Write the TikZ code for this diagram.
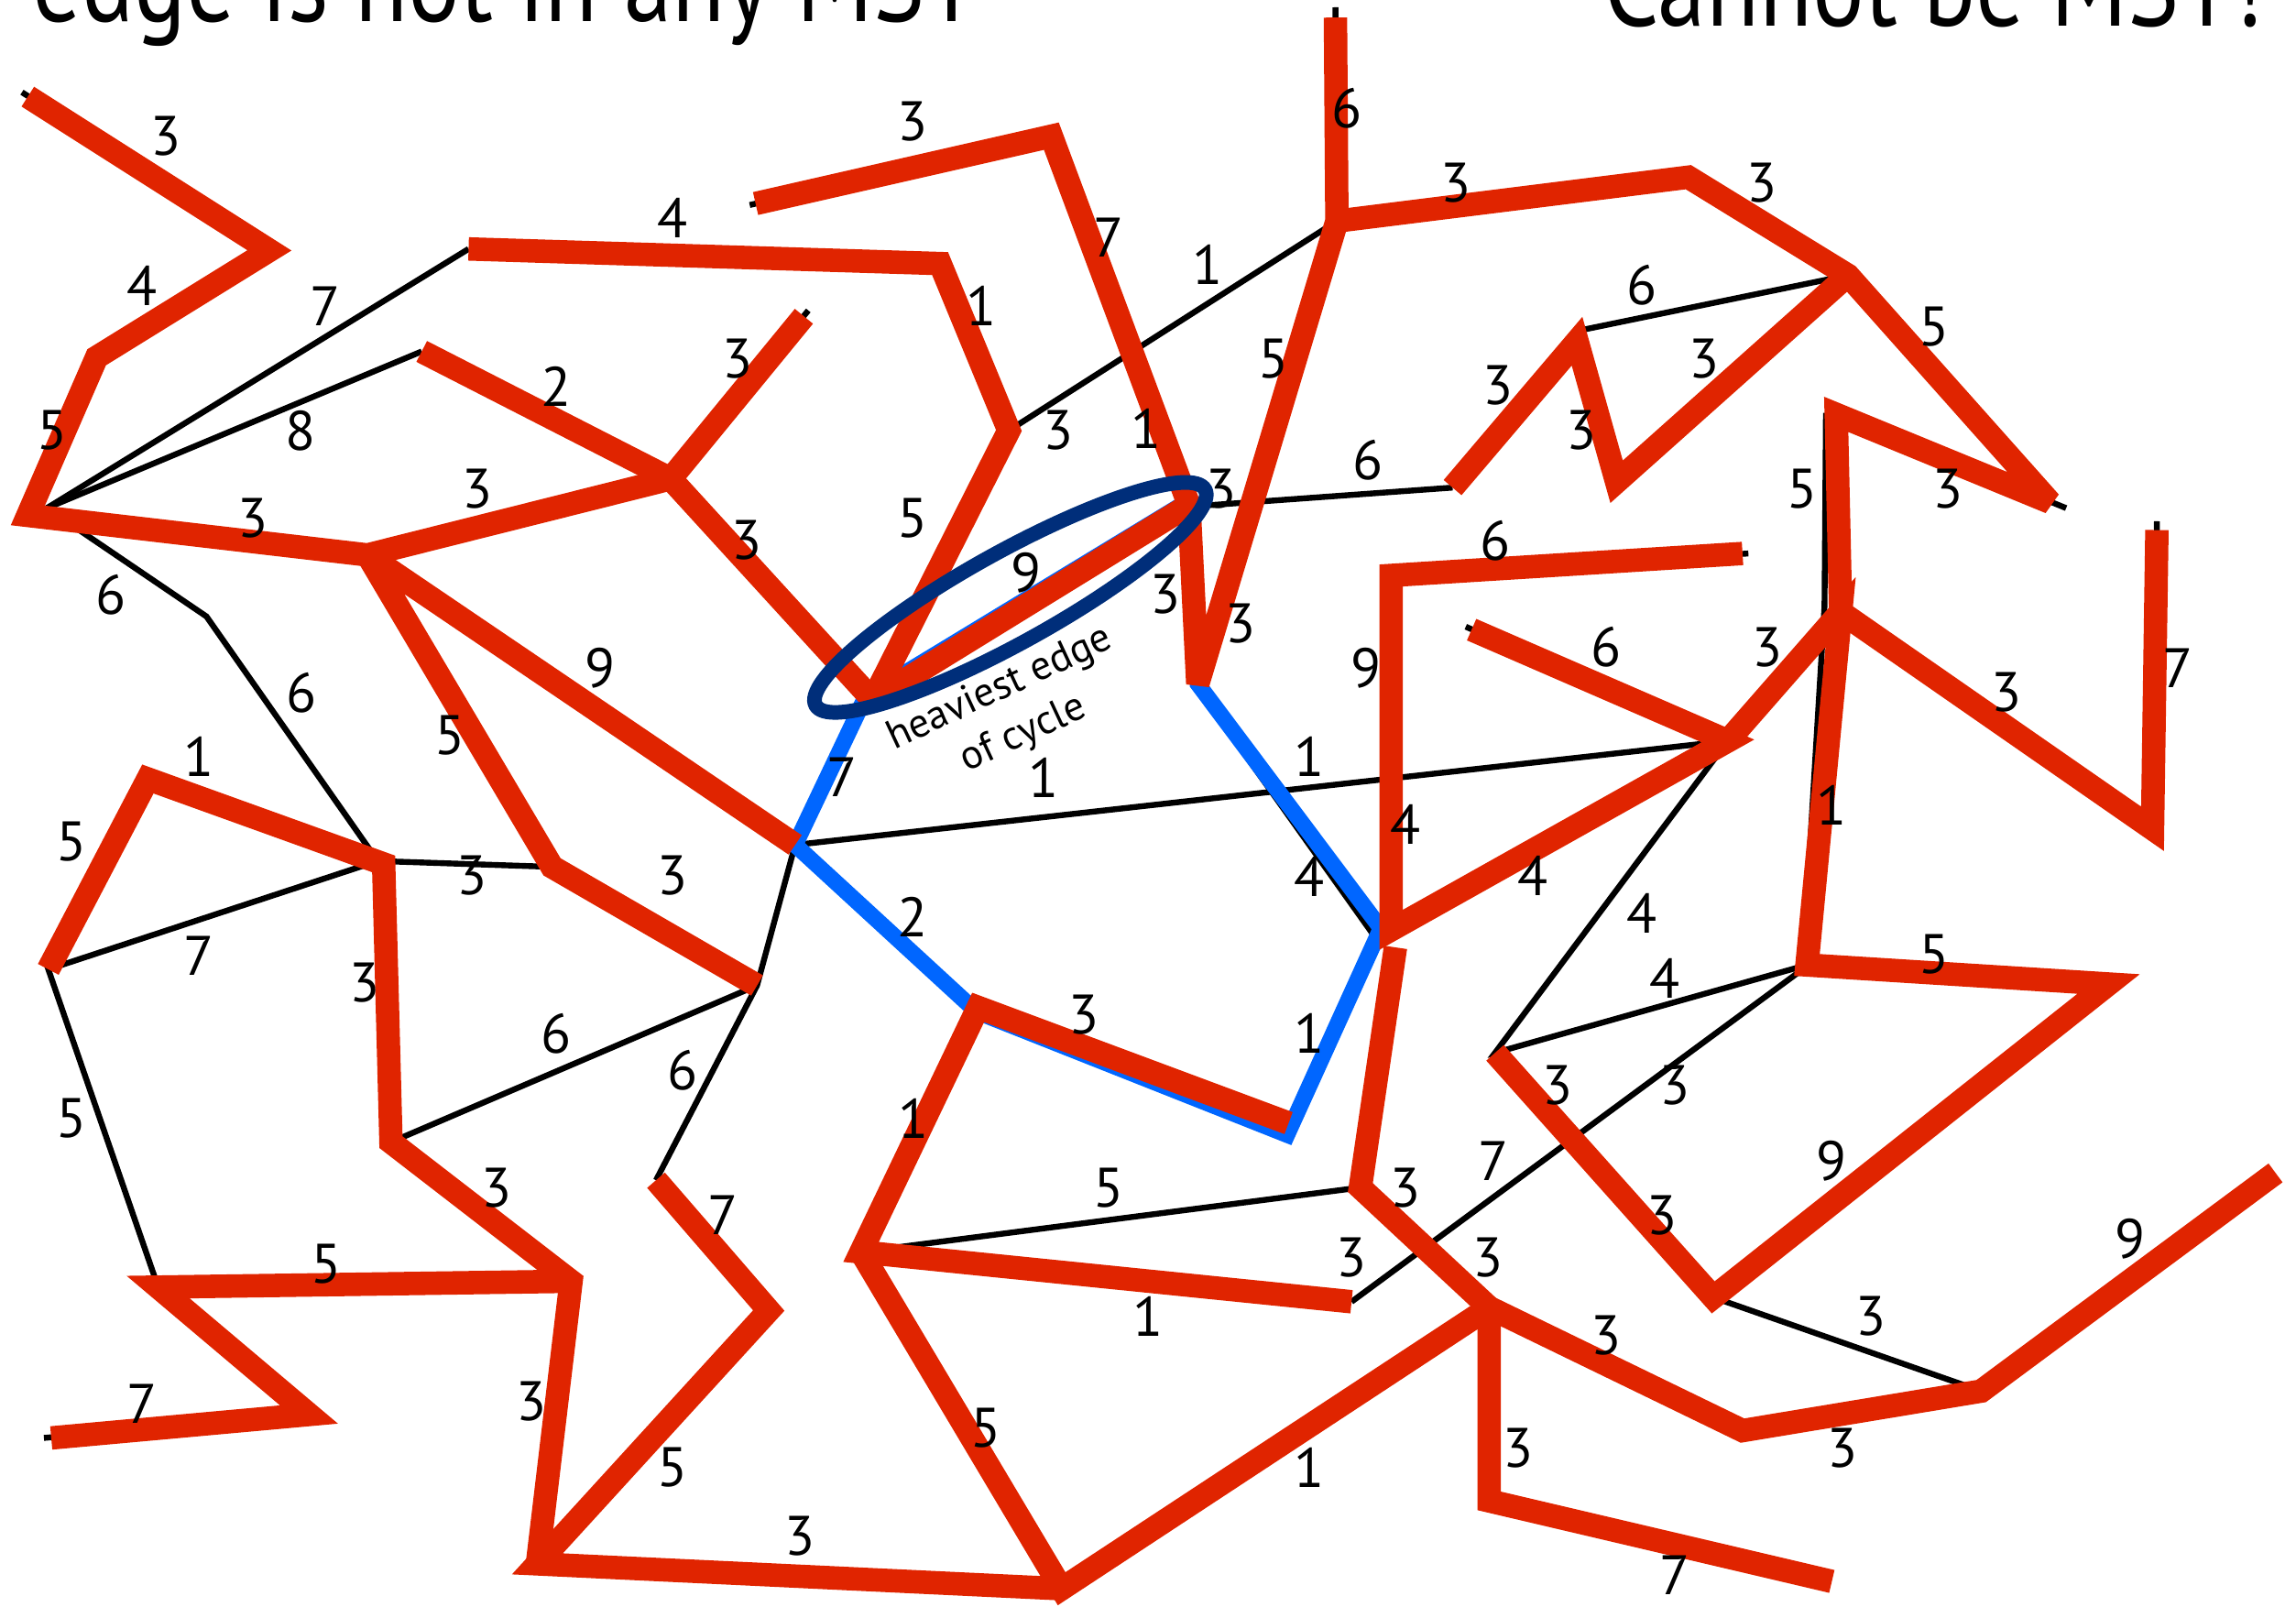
\documentclass[tikz,border=0pt]{standalone}
\usepackage{fontspec}
\setmainfont{PT Sans}
\definecolor{mstred}{RGB}{224,36,0}
\definecolor{cycblue}{RGB}{0,102,255}
\definecolor{ovalnavy}{RGB}{0,46,122}
\tikzset{
  treeedge/.style={draw=mstred,line width=16pt,line join=miter,miter limit=4,line cap=butt},
  plainedge/.style={draw=black,line width=4pt,line cap=butt},
  cycleedge/.style={draw=cycblue,line width=11pt,line join=miter,miter limit=4},
  oval/.style={draw=ovalnavy,line width=10pt},
  wlabel/.style={inner sep=0pt,font=\fontsize{38}{44}\selectfont},
  notetext/.style={inner sep=0pt,font=\fontsize{28}{33}\selectfont},
  titletext/.style={inner sep=0pt,font=\fontsize{80}{90}\selectfont},
}
\begin{document}
\begin{tikzpicture}[x=1pt,y=-1pt]
\useasboundingbox (0,0) rectangle (1568,1097);
\clip (0,0) rectangle (1568,1097);
% ---------- vertices ----------
\coordinate (a1) at (19,66);   \coordinate (a1b) at (15,63);
\coordinate (a2) at (184,171);
\coordinate (a3) at (66,244);
\coordinate (a4) at (19,352);  \coordinate (a4h) at (32,347);
\coordinate (bB) at (251,379);
\coordinate (C) at (458,327);
\coordinate (c2) at (549,216); \coordinate (c2b) at (552,212);
\coordinate (b1) at (320,170);
\coordinate (b2) at (288,240);
\coordinate (b3) at (141,421);
\coordinate (b4) at (258,588);
\coordinate (d1) at (642,180);
\coordinate (d2) at (689,294);
\coordinate (f) at (596,478);  \coordinate (fb) at (591,476);
\coordinate (e1) at (516,139); \coordinate (e1b) at (512,140);
\coordinate (e2) at (718,93);
\coordinate (v9) at (812,345); \coordinate (v9b) at (805,346); \coordinate (v9h) at (826,345);
\coordinate (i) at (818,467);  \coordinate (ib) at (818,470);
\coordinate (k) at (913,151);
\coordinate (ktop) at (912,12); \coordinate (ktopb) at (912,5);
\coordinate (l) at (1153,121);
\coordinate (m) at (1262,188);
\coordinate (n) at (1077,233); \coordinate (nb) at (1082,225);
\coordinate (x1107) at (1104,329);
\coordinate (x992) at (992,333);
\coordinate (x1408) at (1400,343); \coordinate (x1408b) at (1411,347);
\coordinate (x1254) at (1254,283); \coordinate (x1247) at (1247,282);
\coordinate (p) at (1257,418);  \coordinate (ph) at (1246,414);
\coordinate (x1472) at (1470,566);
\coordinate (x1473) at (1473,362); \coordinate (x1473b) at (1473,356);
\coordinate (r) at (1190,378);  \coordinate (rb) at (1194,378);
\coordinate (x948) at (950,393);
\coordinate (j) at (950,635);   \coordinate (jb) at (939,640); \coordinate (jc) at (943,634);
\coordinate (q) at (1180,506);
\coordinate (s) at (1005,430);  \coordinate (sb) at (1001,428);
\coordinate (D) at (543,577);
\coordinate (g) at (668,688);   \coordinate (gb) at (667,691);
\coordinate (h) at (880,767);   \coordinate (hb) at (879,775);
\coordinate (u) at (1234,659);  \coordinate (ub) at (1231,662);
\coordinate (x1440) at (1440,672);
\coordinate (x1170) at (1170,886);
\coordinate (t) at (1021,719);
\coordinate (x1355) at (1353,950);
\coordinate (x1553) at (1554,801);
\coordinate (x1190) at (1190,977);
\coordinate (w) at (1017,893);  \coordinate (wb) at (1020,889);
\coordinate (x1018) at (1017,1025);
\coordinate (x1250) at (1251,1080);
\coordinate (x952) at (953,647);
\coordinate (x930) at (929,811);
\coordinate (x922) at (923,889);
\coordinate (x590) at (588,855); \coordinate (x590b) at (584,857);
\coordinate (x728) at (725,1085);
\coordinate (x365) at (367,1068);
\coordinate (x525) at (525,895);
\coordinate (x447) at (448,806);
\coordinate (x517) at (517,673);
\coordinate (x378) at (377,592);
\coordinate (x262) at (262,590);
\coordinate (x265) at (267,780);
\coordinate (x100) at (101,532);
\coordinate (x32) at (33,662);
\coordinate (x390) at (390,875);
\coordinate (x107) at (108,879);
\coordinate (x212) at (211,966);
\coordinate (x34) at (35,982);  \coordinate (x34b) at (30,982);
\coordinate (ec) at (690,408);
% ---------- titles ----------
\node[titletext,anchor=base west] (title1) at (22,15) {\scalebox{0.83}[1]{edge is not in any MST}};
\node[titletext,anchor=base east] (title2) at (1546,18) {\scalebox{0.83}[1]{Cannot be MST!}};
% ---------- non-tree (black) edges ----------
\draw[plainedge] (a1b) -- (a2);
\draw[plainedge] (a4h) -- (b1);
\draw[plainedge] (a4h) -- (b2);
\draw[plainedge] (a4h) -- (b3) -- (b4);
\draw[plainedge] (b4) -- (x32) -- (x107);
\draw[plainedge] (b4) -- (x378);
\draw[plainedge] (x265) -- (x517);
\draw[plainedge] (D) -- (x517) -- (x447);
\draw[plainedge] (D) -- (q);
\draw[plainedge] (d2) -- (k);
\draw[plainedge] (v9h) -- (x992);
\draw[plainedge] (m) -- (nb);
\draw[plainedge] (x1247) -- (ph) -- (ub);
\draw[plainedge] (q) -- (t) -- (u);
\draw[plainedge] (ub) -- (x922);
\draw[plainedge] (x930) -- (x590);
\draw[plainedge] (x1170) -- (x1355);
\draw[plainedge] (ib) -- (jb);
\draw[plainedge] (e1b) -- (e2);
\draw[plainedge] (c2b) -- (C);
\draw[plainedge] (ktopb) -- (k);
\draw[plainedge] (rb) -- (x948);
\draw[plainedge] (sb) -- (q);
\draw[plainedge] (x1254) -- (x1408b);
\draw[plainedge] (x1473b) -- (x1472);
\draw[plainedge] (x34b) -- (x212);
\draw[plainedge] (x590b) -- (x728);
\draw[plainedge] (wb) -- (x1190);
% ---------- cycle (blue) ----------
\draw[cycleedge] (v9b) -- (fb) -- (D) -- (gb) -- (hb) -- (jc) -- (i) -- (v9);
% ---------- MST (red) edges ----------
\draw[treeedge] (a1) -- (a2) -- (a3) -- (a4) -- (bB) -- (C) -- (c2);
\draw[treeedge] (b2) -- (C) -- (f);
\draw[treeedge] (b1) -- (d1) -- (d2) -- (f);
\draw[treeedge] (f) -- (v9);
\draw[treeedge] (D) -- (bB) -- (x378) -- (x517);
\draw[treeedge] (e1) -- (e2) -- (v9) -- (i) -- (k) -- (ktop);
\draw[treeedge] (k) -- (l) -- (m) -- (x1408) -- (x1254) -- (p) -- (x1472) -- (x1473);
\draw[treeedge] (m) -- (x1107) -- (n) -- (x992);
\draw[treeedge] (q) -- (p) -- (u) -- (x1440) -- (x1170) -- (t);
\draw[treeedge] (r) -- (x948) -- (j) -- (q) -- (s);
\draw[treeedge] (x952) -- (x930) -- (w) -- (x1018) -- (x1250);
\draw[treeedge] (h) -- (g) -- (x590) -- (x922);
\draw[treeedge] (x590) -- (x728) -- (w) -- (x1190) -- (x1355) -- (x1553);
\draw[treeedge] (x447) -- (x525) -- (x365) -- (x728);
\draw[treeedge] (x365) -- (x390) -- (x265) -- (x262) -- (x100) -- (x32);
\draw[treeedge] (x390) -- (x107) -- (x212) -- (x34);
% ---------- oval around heaviest edge ----------
\draw[oval,rotate around={29:(ec)}] (ec) ellipse [x radius=152pt, y radius=31pt];
\node[notetext,anchor=base,rotate=25] (note1) at (686,477) {heaviest edge};
\node[notetext,anchor=base,rotate=25] (note2) at (702,508) {of cycle};
% ---------- weights ----------
\foreach \px/\py/\wt [count=\nn] in {
113/93/3, 97/195/4, 36/294/5, 222/209/7, 205/294/8, 173/354/3, 76/406/6, 206/473/6,
459/149/4, 380/264/2, 504/245/3, 326/334/3, 510/369/3, 307/502/5, 410/456/9,
623/83/3, 757/162/7, 670/209/1, 825/181/1, 920/74/6, 994/125/3, 1203/125/3,
1121/195/6, 1321/223/5, 1164/245/3, 1023/263/3, 1080/294/3, 870/245/5, 723/294/3,
783/293/1, 623/354/5, 834/334/3, 934/314/6, 1231/334/5, 1330/334/3, 1021/369/6,
701/391/9, 796/406/3, 847/426/3, 933/456/9, 1097/442/6, 1207/442/3, 1370/473/3,
1487/456/7, 575/531/7, 713/531/1, 894/517/1, 1251/550/1, 136/517/1, 49/575/5,
322/598/3, 459/598/3, 960/563/4, 894/599/4, 1047/598/4, 1121/624/4, 623/626/2,
136/653/7, 249/671/3, 1137/668/4, 1321/652/5, 740/693/3, 894/706/1, 380/706/6,
466/731/6, 1064/741/3, 1144/741/3, 49/764/5, 624/764/1, 1251/793/9, 339/811/3,
757/811/5, 960/811/3, 1020/793/7, 494/830/7, 1135/830/3, 1455/846/9, 223/863/5,
923/859/3, 1016/859/3, 784/899/1, 1278/899/3, 1097/912/3, 363/957/3, 97/959/7,
673/975/5, 1037/989/3, 1258/989/3, 894/1002/1, 459/1002/5, 546/1049/3, 1144/1076/7}
  \node[wlabel] (wt\nn) at (\px,\py) {\wt};
\end{tikzpicture}
\end{document}
